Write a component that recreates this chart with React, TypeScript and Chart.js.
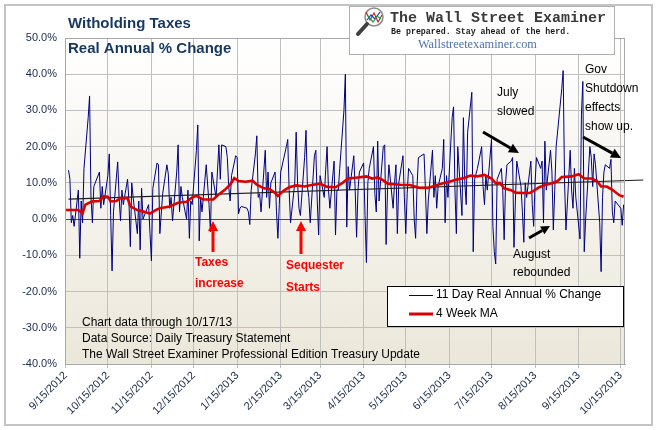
import React, { useEffect, useRef } from 'react';
import { Chart, registerables } from 'chart.js';

Chart.register(...registerables);

// ---------- data ----------
const BASE_DATE = '9/15/2012';
const tickLabels = ['9/15/2012', '10/15/2012', '11/15/2012', '12/15/2012', '1/15/2013', '2/15/2013', '3/15/2013', '4/15/2013', '5/15/2013', '6/15/2013', '7/15/2013', '8/15/2013', '9/15/2013', '10/15/2013'];
const holidays = ['10/8/2012', '11/12/2012', '11/22/2012', '12/25/2012', '1/1/2013', '1/21/2013', '2/18/2013', '5/27/2013', '7/4/2013', '9/2/2013', '10/14/2013'];

// 11 Day Real Annual % Change, one value per Treasury business day of each month
const sep2012 = [13.5, 11, -1, 1, -2, 8, -10.8, 5, -1, 14];
const oct2012 = [28, 34, 6, -1, 9, 13, 3, 9, 4, 12, 18, 1, -14.3, 2, 15.8, 6, -0.5, 8, 4, 11, 5, -7.6];
const nov2012 = [10, 6, -4, 5, -8.5, 8.5, 0, 4, -4, -11.5, 8.5, 15.5, 15, -4, 7, 15, 12.5, 3, 6, -0.5];
const dec2012 = [13, 20.5, 2, 9, 6, 0, 8, -5.3, 5, 4, 19, 26, -6, 6, 2, 15, 4, -3.5, 13, 6];
const jan2013 = [20.5, 11, 20.5, 20, 17, 9, 5, 12, 17.5, 17, 1.5, 3, 3.5, 3, 2, -1.5, 8, 18, 23, 6, 7];
const feb2013 = [2, 19, 6, 13, 3, 10, 13, 2, -5.3, 4, 13, 20, 22, 8, -1, 10, 24, 10, 3];
const mar2013 = [1, 17, 24.5, 9, 6, -1, 17.5, 19, 5, -4.4, 12, 6, 13.6, 20, 8, 3, 16, -4.4, 8, 8, 14];
const apr2013 = [30, 40, -2.2, 14.5, 8, 17.5, 8, -5, 8, 13, 15.5, 1, -12, 10, 14, 20, 7, 2, 21.5, 5, 20, 20.5];
const may2013 = [-7, 8, 15, 3, 10, 15, -4, 10, 17.5, 6, -4, 7, 14, 12, 0, -5.3, 9, 17, 18, 8, -4, 5];
const jun2013 = [19, 6, 12, 3, 9, 14, 22, -1, 12, 6, 28, 31, 8, -4, 20, 1, 28, 10, 4, 24];
const jul2013 = [35, -9, 11, 14, 20, 9, 4, 12, 8, 22, -2, -9, -12.4, 11, 14, 8, -5.7, 10, 15, 16, 17, -7.8];
const aug2013 = [5, 16, 9, 2, -6.4, 10, 6, 16, 4, -2, 10, 17, 14, 16, -1, 21.5, 8, 19, 13, -3, 8, 20];
const sep2013 = [36, 41, 10, -3, 19, 8, 3, 14, 6, -5.5, 29, 38, -9, 0, 20, 17, 9, 18, 15, -1];
const oct2013 = [-14.5, 6, 13, 15, 14, 16.5, 2, -1, 5, 3, -1.7, 4];

// month segments: [year, month, first day, last day, values]
const dailySegments: [number, number, number, number, number[]][] = [
  [2012, 9, 17, 30, sep2012], [2012, 10, 1, 31, oct2012], [2012, 11, 1, 30, nov2012],
  [2012, 12, 1, 31, dec2012], [2013, 1, 1, 31, jan2013], [2013, 2, 1, 28, feb2013],
  [2013, 3, 1, 31, mar2013], [2013, 4, 1, 30, apr2013], [2013, 5, 1, 31, may2013],
  [2013, 6, 1, 30, jun2013], [2013, 7, 1, 31, jul2013], [2013, 8, 1, 31, aug2013],
  [2013, 9, 1, 30, sep2013], [2013, 10, 1, 17, oct2013],
];

// 4 Week MA (days since 9/15/2012, value)
const maDays = [0, 9, 12, 14, 19, 24, 27, 30, 32, 36, 39, 44, 46, 51, 56, 60, 64, 67, 74, 80, 86, 90, 93, 98, 105, 108, 113, 117, 120, 123, 128, 133, 136, 141, 145, 149, 151, 155, 159, 164, 170, 175, 181, 186, 192, 197, 201, 208, 214, 218, 222, 226, 229, 238, 245, 251, 258, 263, 268, 273, 278, 283, 288, 293, 298, 303, 306, 309, 312, 317, 320, 325, 330, 333, 337, 341, 346, 350, 353, 360, 365, 369, 374, 378, 381, 385, 389, 394, 397];
const maValues = [2.5, 2.5, 1.6, 4, 4.9, 5, 6.3, 6.2, 4.9, 5, 5.8, 5.8, 3.5, 2.5, 2, 1.5, 2.5, 3, 3.5, 4.5, 4.8, 6, 6.4, 5.4, 5.4, 6.5, 8, 9.5, 11.3, 10.5, 10.3, 10.6, 9.5, 8.5, 8.3, 7.2, 6.4, 7.8, 8.8, 9.3, 9, 9.4, 9.8, 8.9, 8.8, 10, 11.2, 11.5, 11.8, 11.2, 11.5, 10.7, 9.8, 9.5, 9.4, 8.7, 8.6, 9.3, 9.8, 10.3, 10.9, 11.3, 12, 11.8, 12.2, 11.2, 9.9, 10, 8.5, 8, 7.3, 7.2, 7.2, 7.8, 8.8, 9.4, 9.9, 10.5, 11.6, 11.8, 12.4, 11.2, 11.2, 10.6, 9, 9, 8.1, 6.6, 6.2];

// linear trend line end points
const trendDays = [2, 411];
const trendValues = [5.5, 10.8];

// ---------- helpers ----------
const toUTC = (s: string) => {
  const [m, d, y] = s.split('/').map(Number);
  return Date.UTC(y, m - 1, d);
};
const BASE = toUTC(BASE_DATE);
const dayOf = (s: string) => Math.round((toUTC(s) - BASE) / 86400000);
const tickDays = tickLabels.map(dayOf);
const holidaySet = new Set(holidays);

function buildDaily() {
  const pts: { x: number; y: number }[] = [];
  for (const [y, m, from, to, vals] of dailySegments) {
    let i = 0;
    for (let d = from; d <= to && i < vals.length; d++) {
      const dt = new Date(Date.UTC(y, m - 1, d));
      if (dt.getUTCMonth() !== m - 1) break;
      const wd = dt.getUTCDay();
      const key = `${m}/${d}/${y}`;
      if (wd === 0 || wd === 6 || holidaySet.has(key)) continue;
      pts.push({ x: dayOf(key), y: vals[i++] });
    }
  }
  return pts;
}

const FONT = '"Liberation Sans", Arial, sans-serif';
const HAND = '"Comic Sans MS", "Liberation Sans", Arial, sans-serif';

function arrow(ctx: CanvasRenderingContext2D, x1: number, y1: number, x2: number, y2: number, color: string, w: number, hl: number, hw: number) {
  const ang = Math.atan2(y2 - y1, x2 - x1);
  const bx = x2 - Math.cos(ang) * hl;
  const by = y2 - Math.sin(ang) * hl;
  ctx.save();
  ctx.strokeStyle = color;
  ctx.fillStyle = color;
  ctx.lineWidth = w;
  ctx.lineCap = 'butt';
  ctx.beginPath();
  ctx.moveTo(x1, y1);
  ctx.lineTo(bx, by);
  ctx.stroke();
  ctx.beginPath();
  ctx.moveTo(x2, y2);
  ctx.lineTo(bx + Math.sin(ang) * hw / 2, by - Math.cos(ang) * hw / 2);
  ctx.lineTo(bx - Math.sin(ang) * hw / 2, by + Math.cos(ang) * hw / 2);
  ctx.closePath();
  ctx.fill();
  ctx.restore();
}

const bgPlugin = {
  id: 'bgPlugin',
  beforeDraw(chart: any) {
    const { ctx, chartArea: a } = chart;
    ctx.save();
    ctx.fillStyle = '#ffffff';
    ctx.fillRect(0, 0, chart.width, chart.height);
    const g = ctx.createLinearGradient(0, a.top, 0, a.bottom);
    g.addColorStop(0, '#ffffff');
    g.addColorStop(1, '#ebe7da');
    ctx.fillStyle = g;
    ctx.fillRect(a.left, a.top, a.right - a.left, a.bottom - a.top);
    ctx.restore();
  },
};

const overlayPlugin = {
  id: 'overlayPlugin',
  afterDraw(chart: any) {
    const { ctx, chartArea: a } = chart;
    ctx.save();
    // plot border
    ctx.strokeStyle = '#a8a8a8';
    ctx.lineWidth = 1;
    ctx.strokeRect(a.left + 0.5, a.top + 0.5, a.right - a.left - 1, a.bottom - a.top);
    // outer border
    ctx.strokeStyle = '#c4c4c4';
    ctx.lineWidth = 2;
    ctx.strokeRect(5, 5, 647, 420);

    // titles
    ctx.fillStyle = '#17375e';
    ctx.font = `bold 15px ${FONT}`;
    ctx.textBaseline = 'middle';
    ctx.textAlign = 'left';
    ctx.fillText('Witholding Taxes', 68, 24);
    ctx.fillText('Real Annual % Change', 68, 49);

    // logo box
    ctx.fillStyle = '#ffffff';
    ctx.fillRect(349, 6, 265, 48);
    ctx.strokeStyle = '#b0b0b0';
    ctx.lineWidth = 1;
    ctx.strokeRect(349.5, 6.5, 265, 48);
    // magnifier
    ctx.lineWidth = 1.5;
    ctx.strokeStyle = '#8a8a8a';
    ctx.beginPath();
    ctx.arc(374, 17, 9, 0, Math.PI * 2);
    ctx.stroke();
    ctx.lineWidth = 1.2;
    ctx.strokeStyle = '#d02020';
    ctx.beginPath();
    ctx.moveTo(366, 12); ctx.lineTo(370, 20); ctx.lineTo(374, 13); ctx.lineTo(378, 22); ctx.lineTo(382, 15);
    ctx.stroke();
    ctx.strokeStyle = '#2040c0';
    ctx.beginPath();
    ctx.moveTo(367, 20); ctx.lineTo(371, 15); ctx.lineTo(375, 19); ctx.lineTo(380, 12);
    ctx.stroke();
    ctx.strokeStyle = '#20a040';
    ctx.beginPath();
    ctx.moveTo(368, 16); ctx.lineTo(373, 22); ctx.lineTo(377, 16); ctx.lineTo(381, 19);
    ctx.stroke();
    ctx.strokeStyle = '#404040';
    ctx.lineWidth = 4;
    ctx.lineCap = 'round';
    ctx.beginPath();
    ctx.moveTo(367, 24); ctx.lineTo(358, 34);
    ctx.stroke();
    ctx.lineCap = 'butt';

    ctx.fillStyle = '#3a3a3a';
    ctx.font = `bold 15px "Liberation Mono", "Courier New", monospace`;
    ctx.fillText('The Wall Street Examiner', 390, 18);
    ctx.fillStyle = '#1a1a1a';
    ctx.font = `bold 8.3px "Liberation Mono", "Courier New", monospace`;
    ctx.fillText('Be prepared. Stay ahead of the herd.', 391, 32);
    ctx.fillStyle = '#4f72a8';
    ctx.font = `12.3px "Liberation Serif", "Times New Roman", serif`;
    ctx.fillText('Wallstreetexaminer.com', 418, 45);

    // annotations (black)
    ctx.fillStyle = '#000000';
    ctx.font = `12px ${HAND}`;
    ctx.fillText('July', 497, 93);
    ctx.fillText('slowed', 497, 112);
    ctx.fillText('Gov', 585, 70);
    ctx.fillText('Shutdown', 585, 89);
    ctx.fillText('effects', 585, 108);
    ctx.fillText('show up.', 585, 127);
    ctx.fillText('August', 513, 255);
    ctx.fillText('rebounded', 513, 273);
    arrow(ctx, 483, 132, 519, 153, '#000000', 3, 10, 10);
    arrow(ctx, 583, 137, 621, 158, '#000000', 3, 10, 10);
    arrow(ctx, 529, 238, 550, 226, '#000000', 3, 9, 9);

    // annotations (red)
    ctx.fillStyle = '#ff0000';
    ctx.font = `bold 12px ${HAND}`;
    ctx.fillText('Taxes', 195, 263);
    ctx.fillText('increase', 195, 284);
    ctx.fillText('Sequester', 286, 266);
    ctx.fillText('Starts', 286, 288);
    arrow(ctx, 213, 252, 213, 221, '#ff0000', 3, 10, 10);
    arrow(ctx, 301, 254, 301, 221, '#ff0000', 3, 10, 10);

    // source text
    ctx.fillStyle = '#000000';
    ctx.font = `12px ${FONT}`;
    ctx.fillText('Chart data through 10/17/13', 82, 323);
    ctx.fillText('Data Source: Daily Treasury Statement', 82, 339);
    ctx.fillText('The Wall Street Examiner Professional Edition Treasury Update', 82, 355);

    // legend
    ctx.fillStyle = '#ffffff';
    ctx.fillRect(387, 286, 236, 40);
    ctx.strokeStyle = '#000000';
    ctx.lineWidth = 1;
    ctx.strokeRect(387.5, 286.5, 236, 40);
    ctx.strokeStyle = '#000080';
    ctx.lineWidth = 1;
    ctx.beginPath();
    ctx.moveTo(409, 295.5); ctx.lineTo(433, 295.5);
    ctx.stroke();
    ctx.strokeStyle = '#dd0000';
    ctx.lineWidth = 3;
    ctx.beginPath();
    ctx.moveTo(409, 314); ctx.lineTo(433, 314);
    ctx.stroke();
    ctx.fillStyle = '#000000';
    ctx.font = `12px ${FONT}`;
    ctx.fillText('11 Day Real Annual % Change', 436, 295);
    ctx.fillText('4 Week MA', 436, 314);
    ctx.restore();
  },
};

export default function App() {
  const ref = useRef<HTMLCanvasElement>(null);
  useEffect(() => {
    const canvas = ref.current;
    if (!canvas) return;
    const daily = buildDaily();
    const ma = maDays.map((d, i) => ({ x: d, y: maValues[i] }));
    const trend = trendDays.map((d, i) => ({ x: d, y: trendValues[i] }));
    const chart = new Chart(canvas, {
      type: 'line',
      data: {
        datasets: [
          { label: '4 Week MA', data: ma, borderColor: '#dd0000', borderWidth: 2.6, pointRadius: 0, tension: 0, order: 1 },
          { label: 'Trend', data: trend, borderColor: '#1e1e1e', borderWidth: 1.2, pointRadius: 0, order: 2, clip: false as any },
          { label: '11 Day Real Annual % Change', data: daily, borderColor: '#000080', borderWidth: 1, pointRadius: 0, tension: 0, order: 3 },
        ],
      },
      options: {
        animation: false,
        responsive: false,
        devicePixelRatio: 1,
        parsing: false as any,
        layout: { padding: { top: 38, right: 33, left: 0, bottom: 0 } },
        plugins: { legend: { display: false }, tooltip: { enabled: false }, title: { display: false } },
        scales: {
          x: {
            type: 'linear',
            min: -0.5,
            max: 398,
            afterBuildTicks: (s: any) => { s.ticks = tickDays.map((v) => ({ value: v })); },
            afterFit: (s: any) => { s.height = 66; },
            ticks: {
              autoSkip: false,
              maxRotation: 45,
              minRotation: 45,
              color: '#1a2a4a',
              font: { family: FONT, size: 11 },
              padding: 1,
              callback: (_v: any, i: number) => tickLabels[i],
            },
            grid: { color: '#c0c0c0', lineWidth: 1, tickLength: 4 },
            border: { color: '#a8a8a8' },
          },
          y: {
            min: -40,
            max: 50,
            afterFit: (s: any) => { s.width = 65; },
            ticks: {
              stepSize: 10,
              color: '#1a2a4a',
              font: { family: FONT, size: 11 },
              padding: 8,
              callback: (v: any) => `${Number(v).toFixed(1)}%`,
            },
            grid: {
              drawTicks: false,
              color: (c: any) => (c.tick && c.tick.value === 0 ? '#ff0000' : '#c0c0c0'),
            },
            border: { color: '#a8a8a8' },
          },
        },
      },
      plugins: [bgPlugin, overlayPlugin],
    });
    return () => chart.destroy();
  }, []);
  return (
    <div style={{ position: 'absolute', left: 0, top: 0, width: 658, height: 430 }}>
      <canvas ref={ref} width={658} height={430} style={{ display: 'block', width: 658, height: 430 }} />
    </div>
  );
}
